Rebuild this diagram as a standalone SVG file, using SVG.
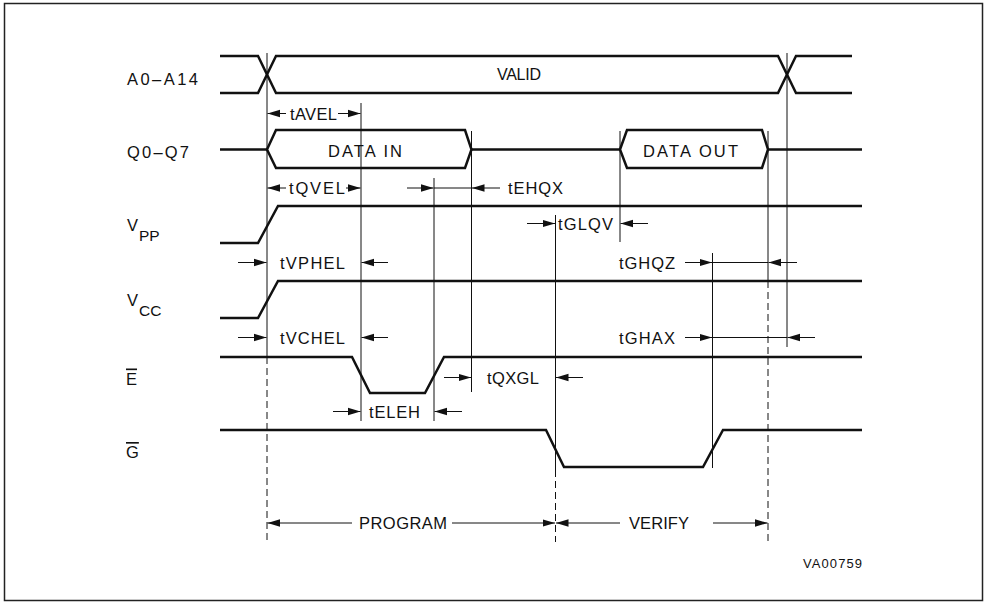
<svg xmlns="http://www.w3.org/2000/svg" width="985" height="605" viewBox="0 0 985 605">
<defs>
<marker id="ah" markerUnits="userSpaceOnUse" markerWidth="14" markerHeight="9" refX="12.5" refY="4.5" orient="auto"><path d="M0,0.8 L12.5,4.5 L0,8.2 z" fill="#111"/></marker>
</defs>
<style>
.sig{fill:none;stroke:#111;stroke-width:2.5;stroke-linejoin:miter}
.ref{stroke:#111;stroke-width:1;fill:none}
.dash{stroke-dasharray:7 4}
.arr{stroke:#111;stroke-width:1;fill:none}
.ae{marker-end:url(#ah)}
text{font-family:"Liberation Sans",Arial,sans-serif;font-size:16.5px;fill:#111}
.sub{font-size:15.5px}
.ol{text-decoration:overline}
.code{font-size:13px}
</style>
<rect x="4.5" y="3.5" width="978" height="597" fill="#fff" stroke="#222" stroke-width="1.5"/>

<g id="sig-a">
<text x="127" y="85" textLength="71" lengthAdjust="spacing">A0–A14</text>
<path class="sig" d="M220,56 L258,56 L276,93 L778,93 L796,56 L852,56"/>
<path class="sig" d="M220,93 L258,93 L276,56 L778,56 L796,93 L852,93"/>
<text x="497" y="80" style="font-size:16px" textLength="44" lengthAdjust="spacing">VALID</text>
</g>

<g id="sig-q">
<text x="127" y="158" textLength="62" lengthAdjust="spacing">Q0–Q7</text>
<path class="sig" d="M220,149.5 L267,149.5 M471.5,149.5 L620,149.5 M768,149.5 L862,149.5"/>
<path class="sig" d="M267,149.5 L276,130 L465,130 L471.5,149.5 L465,168 L276,168 Z"/>
<text x="328" y="156.5" textLength="74" lengthAdjust="spacing">DATA IN</text>
<path class="sig" d="M620,149.5 L627,130 L762,130 L768,149.5 L762,168 L627,168 Z"/>
<text x="643" y="156.5" textLength="95" lengthAdjust="spacing">DATA OUT</text>
</g>

<g id="sig-vpp">
<text x="127" y="230.5">V<tspan class="sub" x="139" y="241">PP</tspan></text>
<path class="sig" d="M220,243 L258,243 L278,206 L862,206"/>
</g>

<g id="sig-vcc">
<text x="127" y="305.5">V<tspan class="sub" x="139" y="316">CC</tspan></text>
<path class="sig" d="M220,318 L258,318 L278,281 L862,281"/>
</g>

<g id="sig-e">
<text class="ol" x="126" y="384.5">E</text>
<path class="sig" d="M220,357 L352,357 L370,393 L425,393 L444,357 L862,357"/>
</g>

<g id="sig-g">
<text class="ol" x="126" y="458">G</text>
<path class="sig" d="M220,430 L546,430 L564,467 L703,467 L723,430 L862,430"/>
</g>

<g id="connectors">
<line class="ref" x1="267" y1="53" x2="267" y2="357"/>
<line class="ref dash" x1="267" y1="357" x2="267" y2="542"/>
<line class="ref" x1="361" y1="103" x2="361" y2="421"/>
<line class="ref" x1="434" y1="178" x2="434" y2="421"/>
<line class="ref" x1="471.5" y1="131" x2="471.5" y2="392"/>
<line class="ref" x1="555.5" y1="215" x2="555.5" y2="470"/>
<line class="ref dash" x1="555.5" y1="470" x2="555.5" y2="542"/>
<line class="ref" x1="620" y1="131" x2="620" y2="242"/>
<line class="ref" x1="712.5" y1="253" x2="712.5" y2="468"/>
<line class="ref" x1="768" y1="131" x2="768" y2="281"/>
<line class="ref dash" x1="768" y1="281" x2="768" y2="542"/>
<line class="ref" x1="787" y1="53" x2="787" y2="347"/>

<line class="arr ae" x1="286" y1="113.5" x2="267.5" y2="113.5"/>
<line class="arr ae" x1="338" y1="113.5" x2="360.5" y2="113.5"/>
<text x="290" y="119.5" textLength="47" lengthAdjust="spacing">tAVEL</text>

<line class="arr ae" x1="286" y1="188" x2="267.5" y2="188"/>
<line class="arr ae" x1="346" y1="188" x2="360.5" y2="188"/>
<text x="289" y="194" textLength="56" lengthAdjust="spacing">tQVEL</text>

<line class="arr ae" x1="407" y1="188" x2="433.5" y2="188"/>
<line class="arr" x1="434" y1="188" x2="471.5" y2="188"/>
<line class="arr ae" x1="500" y1="188" x2="472" y2="188"/>
<text x="508" y="194" textLength="55" lengthAdjust="spacing">tEHQX</text>

<line class="arr ae" x1="527" y1="223.5" x2="555" y2="223.5"/>
<line class="arr ae" x1="648" y1="223.5" x2="620.5" y2="223.5"/>
<text x="558" y="230" textLength="55" lengthAdjust="spacing">tGLQV</text>

<line class="arr ae" x1="238" y1="262.5" x2="266.5" y2="262.5"/>
<line class="arr ae" x1="388" y1="262.5" x2="361.5" y2="262.5"/>
<text x="280" y="269" textLength="65" lengthAdjust="spacing">tVPHEL</text>

<line class="arr ae" x1="685" y1="262.5" x2="712" y2="262.5"/>
<line class="arr" x1="712.5" y1="262.5" x2="768" y2="262.5"/>
<line class="arr ae" x1="797" y1="262.5" x2="768.5" y2="262.5"/>
<text x="619" y="269" textLength="56" lengthAdjust="spacing">tGHQZ</text>

<line class="arr ae" x1="238" y1="337.5" x2="266.5" y2="337.5"/>
<line class="arr ae" x1="388" y1="337.5" x2="361.5" y2="337.5"/>
<text x="280" y="344" textLength="65" lengthAdjust="spacing">tVCHEL</text>

<line class="arr ae" x1="685" y1="337.5" x2="712" y2="337.5"/>
<line class="arr" x1="712.5" y1="337.5" x2="787" y2="337.5"/>
<line class="arr ae" x1="815" y1="337.5" x2="787.5" y2="337.5"/>
<text x="619" y="344" textLength="56" lengthAdjust="spacing">tGHAX</text>

<line class="arr ae" x1="444" y1="377.5" x2="471" y2="377.5"/>
<line class="arr ae" x1="583" y1="377.5" x2="556" y2="377.5"/>
<text x="487" y="384" textLength="52" lengthAdjust="spacing">tQXGL</text>

<line class="arr ae" x1="333" y1="411.5" x2="360.5" y2="411.5"/>
<line class="arr ae" x1="462" y1="411.5" x2="434.5" y2="411.5"/>
<text x="369" y="418" textLength="51" lengthAdjust="spacing">tELEH</text>

<line class="arr ae" x1="352" y1="523" x2="267.5" y2="523"/>
<line class="arr ae" x1="452" y1="523" x2="555" y2="523"/>
<text x="359" y="529" textLength="88" lengthAdjust="spacing">PROGRAM</text>
<line class="arr ae" x1="620" y1="523" x2="556" y2="523"/>
<line class="arr ae" x1="713" y1="523" x2="767.5" y2="523"/>
<text x="629" y="529" textLength="60" lengthAdjust="spacing">VERIFY</text>
</g>

<text class="code" x="803" y="568" textLength="59" lengthAdjust="spacing">VA00759</text>
</svg>
